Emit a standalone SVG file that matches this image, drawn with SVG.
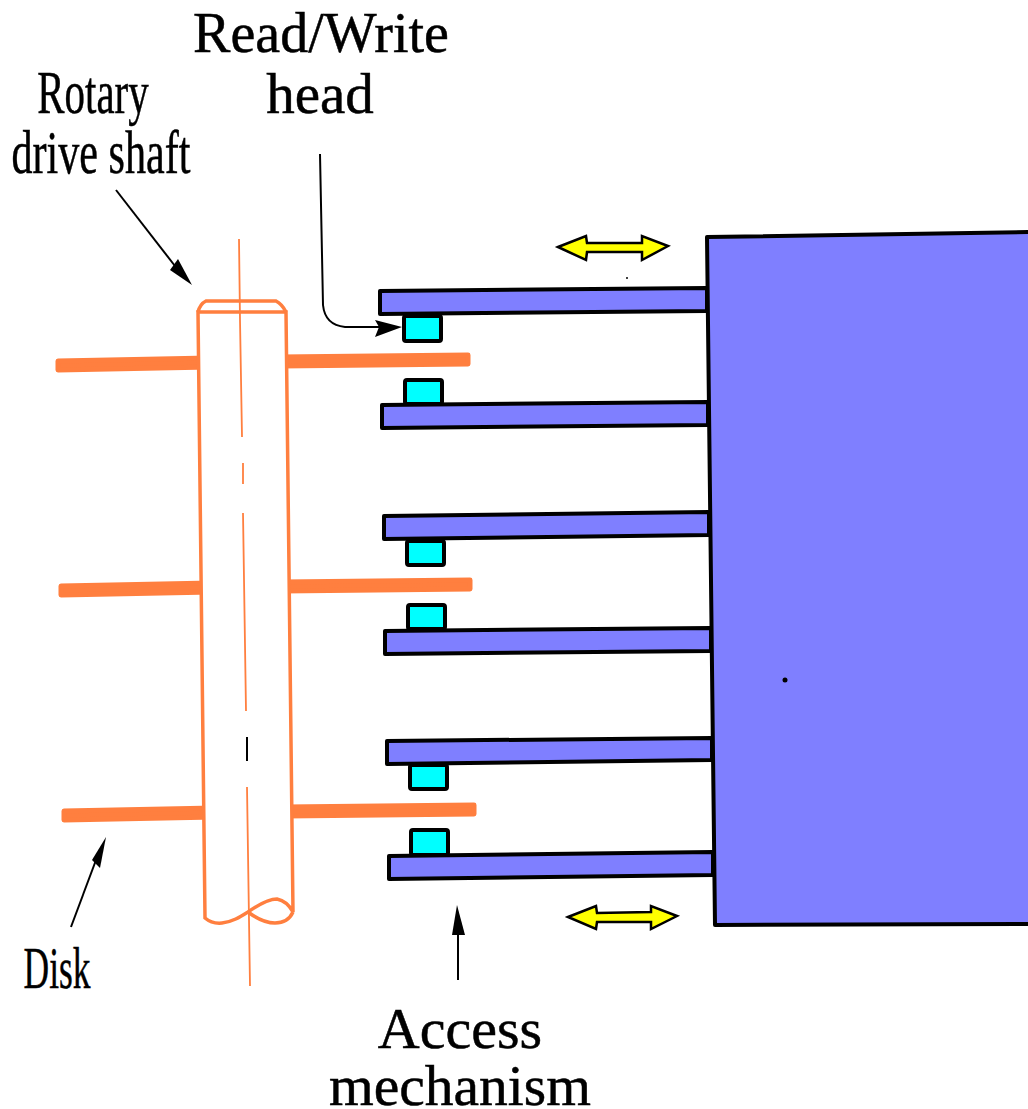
<svg xmlns="http://www.w3.org/2000/svg" width="1028" height="1109" viewBox="0 0 1028 1109">
<style>
.arm{fill:#7f7fff;stroke:#000;stroke-width:4;stroke-linejoin:round}
.head{fill:#00ffff;stroke:#000;stroke-width:4;stroke-linejoin:round}
.disk{fill:#ff7f3f;stroke:#ff7f3f;stroke-width:5;stroke-linejoin:round}
.shaft{fill:none;stroke:#ff7f3f;stroke-width:3.5}
.body{fill:#fff;stroke:#ff7f3f;stroke-width:3.5}
.axis{fill:none;stroke:#ff7f3f;stroke-width:1.8}
.line{fill:none;stroke:#000;stroke-width:2}
.tip{fill:#000}
.dbl{fill:#ffff00;stroke:#000;stroke-width:2.5}
.t{font-family:"Liberation Serif",serif;fill:#000;stroke:#000;stroke-width:.5;text-anchor:middle}
</style>
<rect width="1028" height="1109" fill="#fff"/>
<g id="disks">
<path class="disk" d="M58 361L210 358L210 367L58 370Z"/>
<path class="disk" d="M280 357L468 355L468 364L280 366Z"/>
<path class="disk" d="M61 586L212 583L212 592L61 595Z"/>
<path class="disk" d="M282 582L470 580L470 589L282 591Z"/>
<path class="disk" d="M64 811L215 808L215 817L64 820Z"/>
<path class="disk" d="M285 807L474 805L474 814L285 816Z"/>
</g>
<g id="shaft">
<path class="body" d="M198 312L205 918Q212 924 222 923C232 922 240 917 248 912C258 905 268 899 277 899Q287 901 293 912L286 312Z"/>
<path class="shaft" d="M198 312Q200 304 206 301L276 301Q282 304 286 312M248 912C256 918 266 923 275 923Q288 923 293 912"/>
<path class="axis" d="M239 239L240 320L242 437M243 463L243 484M243 513L246 711M247 787L250 986"/>
<path class="line" d="M247 737L247 761" stroke-width="2"/>
</g>
<g id="access-block">
<path class="arm" d="M707 237L1034 232L1034 924L715 925Z"/>
<circle class="tip" cx="785" cy="680" r="2.5"/>
<circle class="tip" cx="627" cy="278" r="1"/>
</g>
<g id="arms">
<path class="arm" d="M380 291L707 288L707 311L380 314Z"/>
<path class="arm" d="M382 405L708 402L708 425L382 428Z"/>
<path class="arm" d="M384 516L709 512L709 535L384 539Z"/>
<path class="arm" d="M385 631L711 628L711 651L385 654Z"/>
<path class="arm" d="M387 741L712 738L712 760L387 764Z"/>
<path class="arm" d="M389 856L713 852L713 875L389 879Z"/>
</g>
<g id="heads">
<rect class="head" x="404" y="316" width="37" height="25" rx="2"/>
<rect class="head" x="405" y="380" width="37" height="24" rx="2"/>
<rect class="head" x="407" y="541" width="37" height="24" rx="2"/>
<rect class="head" x="408" y="605" width="37" height="24" rx="2"/>
<rect class="head" x="410" y="765" width="37" height="24" rx="2"/>
<rect class="head" x="411" y="830" width="37" height="25" rx="2"/>
</g>
<g id="motion-arrows">
<path class="dbl" d="M558 247L586 236L587 243L642 243L642 236L668 246L642 260L642 252L587 252L586 260Z"/>
<path class="dbl" d="M568 917L596 906L597 913L651 912L651 906L677 916L651 929L651 922L597 922L596 929Z"/>
</g>
<g id="connectors">
<path class="line" d="M320 154L323 305Q325 325 345 327L385 327"/>
<path class="tip" d="M375 320L402 327L375 337L379 327Z"/>
<path class="line" d="M116 190L175 266"/>
<path class="tip" d="M170 270L178 259L192 285Z"/>
<path class="line" d="M71 927L96 860"/>
<path class="tip" d="M92 860L106 837L100 868Z"/>
<path class="line" d="M458 980L458 930"/>
<path class="tip" d="M457 905L465 935L452 935Z"/>
</g>
<g id="labels">
<text class="t" font-size="56" x="321" y="52">Read/Write</text>
<text class="t" font-size="57" x="320" y="113">head</text>
<text class="t" font-size="62" transform="translate(93 113) scale(0.66 1)">Rotary</text>
<text class="t" font-size="62" transform="translate(101 173) scale(0.68 1)">drive shaft</text>
<text class="t" font-size="60" transform="translate(57 988) scale(0.59 1)">Disk</text>
<text class="t" font-size="58" x="460" y="1048">Access</text>
<text class="t" font-size="57.5" x="460" y="1105">mechanism</text>
</g>
</svg>
